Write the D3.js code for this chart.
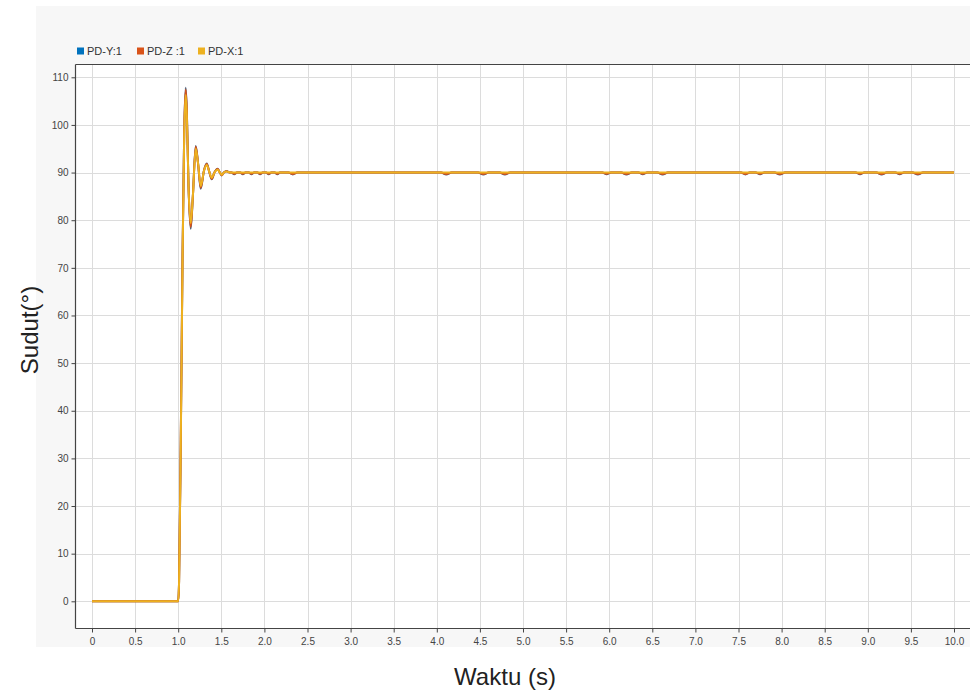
<!DOCTYPE html>
<html>
<head>
<meta charset="utf-8">
<script src="https://cdn.jsdelivr.net/npm/d3@7"></script>
<style>
  html, body { margin: 0; padding: 0; background: #ffffff; }
  svg { display: block; font-family: "Liberation Sans", Arial, sans-serif; }
</style>
</head>
<body>
<svg id="chart" width="970" height="691"></svg>
<script>
// ---------- DATA ----------
const seriesNames = ["PD-Y:1", "PD-Z :1", "PD-X:1"];
const seriesColors = ["#0072BD", "#D95319", "#EDB120"];

const xTicks = [0, 0.5, 1.0, 1.5, 2.0, 2.5, 3.0, 3.5, 4.0, 4.5, 5.0, 5.5, 6.0, 6.5, 7.0, 7.5, 8.0, 8.5, 9.0, 9.5, 10.0];
const yTicks = [0, 10, 20, 30, 40, 50, 60, 70, 80, 90, 100, 110];

// transient response (shared time base)
const transientTime = [0, 1.0, 1.01, 1.03, 1.05, 1.07, 1.087, 1.10, 1.12, 1.145, 1.17, 1.203, 1.23, 1.261, 1.30, 1.331, 1.36, 1.389, 1.42, 1.458, 1.48, 1.505, 1.53, 1.56, 1.60];
const pdY_transient = [0, 0, 4, 34, 72, 99, 107.8, 103, 87, 78.2, 85, 95.6, 92, 86.6, 90.5, 91.9, 90.2, 88.6, 90.0, 90.8, 90.1, 89.4, 90.0, 90.35, 90.0];
const pdZ_transient = [0, 0, 4, 34, 72, 99, 107.4, 103, 87, 78.6, 85, 95.4, 92, 86.8, 90.5, 91.8, 90.2, 88.7, 90.0, 90.75, 90.1, 89.45, 90.0, 90.3, 90.0];
const pdX_transient = [0, 0, 4, 33, 71, 98, 106.3, 102, 87, 79.4, 85, 95.0, 92, 87.2, 90.4, 91.6, 90.2, 88.9, 90.0, 90.6, 90.1, 89.55, 90.0, 90.25, 90.0];

// steady-state portion with small dips
const steadyTime = [1.62, 1.65, 1.68, 1.72, 1.75, 1.78, 1.82, 1.85, 1.88, 1.92, 1.95, 1.98, 2.02, 2.05, 2.08, 2.12, 2.15, 2.18, 2.28, 2.33, 2.38,
  4.05, 4.11, 4.17, 4.48, 4.54, 4.60, 4.73, 4.79, 4.85, 5.92, 5.97, 6.02, 6.14, 6.20, 6.26, 6.34, 6.39, 6.44, 6.56, 6.62, 6.68,
  7.53, 7.58, 7.63, 7.70, 7.75, 7.80, 7.92, 7.98, 8.04, 8.86, 8.91, 8.96, 9.10, 9.16, 9.22, 9.32, 9.37, 9.42, 9.52, 9.58, 9.64, 10.0];
const pdY_steady = [90, 89.65, 90, 90, 89.65, 90, 90, 89.65, 90, 90, 89.65, 90, 90, 89.65, 90, 90, 89.65, 90, 90, 89.6, 90,
  90, 89.6, 90, 90, 89.6, 90, 90, 89.6, 90, 90, 89.65, 90, 90, 89.6, 90, 90, 89.65, 90, 90, 89.6, 90,
  90, 89.6, 90, 90, 89.65, 90, 90, 89.6, 90, 90, 89.65, 90, 90, 89.6, 90, 90, 89.65, 90, 90, 89.6, 90, 90];
const pdZ_steady = [90, 89.75, 90, 90, 89.75, 90, 90, 89.75, 90, 90, 89.75, 90, 90, 89.75, 90, 90, 89.75, 90, 90, 89.7, 90,
  90, 89.7, 90, 90, 89.7, 90, 90, 89.7, 90, 90, 89.75, 90, 90, 89.7, 90, 90, 89.75, 90, 90, 89.7, 90,
  90, 89.7, 90, 90, 89.75, 90, 90, 89.7, 90, 90, 89.75, 90, 90, 89.7, 90, 90, 89.75, 90, 90, 89.7, 90, 90];
const pdX_steadyTime = [1.62, 10.0];
const pdX_steady = [90, 90];

// ---------- LAYOUT ----------
const svg = d3.select("#chart");
const W = 970, H = 691;
const plot = { left: 75.5, top: 64.5, right: 975, bottom: 628.5 };

const x = d3.scaleLinear().domain([0, 10]).range([92, 954]);
const y = d3.scaleLinear().domain([0, 110]).range([601.3, 77.3]);

// panel background
svg.append("rect").attr("x", 36).attr("y", 6).attr("width", W - 36).attr("height", 641).attr("fill", "#f7f7f7");
// plot area
svg.append("rect").attr("x", plot.left).attr("y", plot.top)
  .attr("width", plot.right - plot.left).attr("height", plot.bottom - plot.top).attr("fill", "#ffffff");

// grid
const grid = svg.append("g");
grid.selectAll("line.v").data(xTicks).join("line")
  .attr("x1", d => Math.round(x(d)) + 0.5).attr("x2", d => Math.round(x(d)) + 0.5)
  .attr("y1", plot.top).attr("y2", plot.bottom)
  .attr("stroke", "#dcdcdc").attr("stroke-width", 1);
grid.selectAll("line.h").data(yTicks).join("line")
  .attr("y1", d => Math.round(y(d)) + 0.5).attr("y2", d => Math.round(y(d)) + 0.5)
  .attr("x1", plot.left).attr("x2", plot.right)
  .attr("stroke", "#dcdcdc").attr("stroke-width", 1);

// top border
svg.append("line").attr("x1", plot.left).attr("x2", plot.right).attr("y1", plot.top).attr("y2", plot.top)
  .attr("stroke", "#444").attr("stroke-width", 1.2);

// axes
const xAxis = d3.axisBottom(x).tickValues(xTicks).tickSize(4).tickSizeOuter(0)
  .tickFormat(d => d === 0 ? "0" : d.toFixed(1));
const gx = svg.append("g").attr("transform", `translate(0,${plot.bottom})`).call(xAxis);
gx.select(".domain").attr("d", `M${plot.left},0H${plot.right}`).attr("stroke", "#444").attr("stroke-width", 1.2);
gx.selectAll(".tick line").attr("stroke", "#444");
gx.selectAll(".tick text").attr("fill", "#444").attr("font-size", 10).attr("dy", "0.9em")
  .attr("font-family", "'Liberation Sans', Arial, sans-serif");

const yAxis = d3.axisLeft(y).tickValues(yTicks).tickSize(4).tickSizeOuter(0);
const gy = svg.append("g").attr("transform", `translate(${plot.left},0)`).call(yAxis);
gy.select(".domain").attr("d", `M0,${plot.top}V${plot.bottom}`).attr("stroke", "#444").attr("stroke-width", 1.2);
gy.selectAll(".tick line").attr("stroke", "#444");
gy.selectAll(".tick text").attr("fill", "#444").attr("font-size", 10)
  .attr("font-family", "'Liberation Sans', Arial, sans-serif");

// series
function pts(t, v) { return t.map((d, i) => [d, v[i]]); }
const data = [
  pts(transientTime, pdY_transient).concat(pts(steadyTime, pdY_steady)),
  pts(transientTime, pdZ_transient).concat(pts(steadyTime, pdZ_steady)),
  pts(transientTime, pdX_transient).concat(pts(pdX_steadyTime, pdX_steady))
];
const line = d3.line().x(d => x(d[0])).y(d => y(d[1])).curve(d3.curveMonotoneX);
const lines = svg.append("g");
data.forEach((d, i) => {
  lines.append("path").attr("d", line(d)).attr("fill", "none")
    .attr("stroke", i === 0 ? "#4a5a75" : seriesColors[i])
    .attr("stroke-width", 2).attr("stroke-linejoin", "round");
});

// legend
const legendX = [77, 137, 198];
const leg = svg.append("g");
seriesNames.forEach((n, i) => {
  leg.append("rect").attr("x", legendX[i]).attr("y", 47.5).attr("width", 7).attr("height", 7).attr("fill", seriesColors[i]);
  leg.append("text").attr("x", legendX[i] + 10).attr("y", 55).attr("font-size", 11).attr("fill", "#333").text(n);
});

// axis titles
svg.append("text").attr("x", 505).attr("y", 685).attr("text-anchor", "middle")
  .attr("font-size", 24).attr("fill", "#222").text("Waktu (s)");
svg.append("text").attr("transform", "translate(38,330) rotate(-90)").attr("text-anchor", "middle")
  .attr("font-size", 24).attr("fill", "#222").text("Sudut(°)");
</script>
</body>
</html>
